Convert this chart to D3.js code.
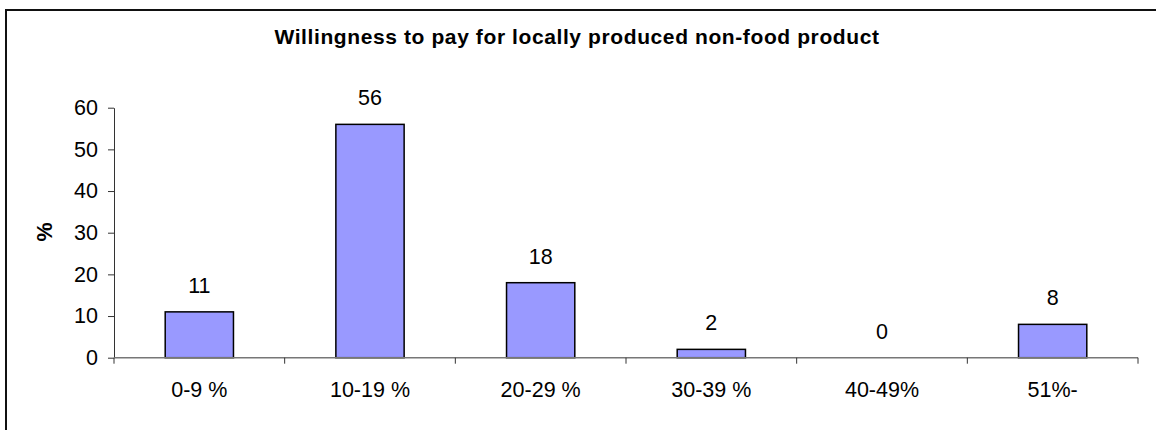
<!DOCTYPE html>
<html>
<head>
<meta charset="utf-8">
<script src="https://cdn.jsdelivr.net/npm/d3@7"></script>
<style>
  html, body { margin: 0; padding: 0; background: #fff; }
  svg { display: block; font-family: "Liberation Sans", Arial, sans-serif; }
</style>
</head>
<body>
<svg id="chart" width="1156" height="430"></svg>
<script>
// Survey result: share of respondents by extra price they would pay
const categories = ["0-9 %", "10-19 %", "20-29 %", "30-39 %", "40-49%", "51%-"];
const values = [11, 56, 18, 2, 0, 8];
const yTicks = [0, 10, 20, 30, 40, 50, 60];
const title = "Willingness to pay for locally produced non-food product";
const yTitle = "%";

const svg = d3.select("#chart");
const W = 1156, H = 430;
const labelSize = 21.5;

// Chart area frame
svg.append("rect")
  .attr("x", 6).attr("y", 10)
  .attr("width", W + 10).attr("height", H + 10)
  .attr("fill", "#fff")
  .attr("stroke", "#111")
  .attr("stroke-width", 2);

const plot = { left: 114, right: 1138, top: 107.7, bottom: 357.7 };

const x = d3.scaleBand()
  .domain(categories)
  .range([plot.left, plot.right])
  .paddingInner(0.6)
  .paddingOuter(0.3);

const y = d3.scaleLinear()
  .domain([0, 60])
  .range([plot.bottom, plot.top]);

// Bars
svg.append("g")
  .selectAll("rect")
  .data(values)
  .join("rect")
  .attr("x", (d, i) => x(categories[i]))
  .attr("y", d => y(d))
  .attr("width", x.bandwidth())
  .attr("height", d => y(0) - y(d))
  .attr("fill", "#9999ff")
  .attr("stroke", d => d > 0 ? "#000" : "none")
  .attr("stroke-width", 1.5);

// Y axis
const yAxis = svg.append("g")
  .attr("transform", `translate(${plot.left},0)`)
  .call(d3.axisLeft(y).tickValues(yTicks).tickSize(6).tickPadding(10).tickSizeOuter(0));
yAxis.select(".domain").attr("stroke", "#333").attr("stroke-width", 1);
yAxis.selectAll(".tick line").attr("stroke", "#333");
yAxis.selectAll(".tick text")
  .attr("font-size", labelSize)
  .attr("fill", "#000")
  .attr("font-family", "Liberation Sans, Arial, sans-serif");

// X axis: ticks at category boundaries
const step = (plot.right - plot.left) / categories.length;
const xAxisG = svg.append("g");
xAxisG.append("line")
  .attr("x1", plot.left).attr("x2", plot.right)
  .attr("y1", y(0)).attr("y2", y(0))
  .attr("stroke", "#777").attr("stroke-width", 1.5);
xAxisG.selectAll("line.tk")
  .data(d3.range(categories.length + 1))
  .join("line")
  .attr("class", "tk")
  .attr("x1", i => plot.left + i * step).attr("x2", i => plot.left + i * step)
  .attr("y1", y(0)).attr("y2", y(0) + 6)
  .attr("stroke", "#333").attr("stroke-width", 1);
xAxisG.selectAll("text")
  .data(categories)
  .join("text")
  .attr("x", d => x(d) + x.bandwidth() / 2)
  .attr("y", 396.5)
  .attr("text-anchor", "middle")
  .attr("font-size", labelSize)
  .text(d => d);

// Value labels
svg.append("g")
  .selectAll("text")
  .data(values)
  .join("text")
  .attr("x", (d, i) => x(categories[i]) + x.bandwidth() / 2)
  .attr("y", d => y(d) - 19)
  .attr("text-anchor", "middle")
  .attr("font-size", labelSize)
  .text(d => d);

// Title
svg.append("text")
  .attr("x", 577)
  .attr("y", 43.5)
  .attr("text-anchor", "middle")
  .attr("font-size", 21)
  .attr("letter-spacing", 0.6)
  .attr("font-weight", "bold")
  .text(title);

// Y axis title
svg.append("text")
  .attr("transform", `translate(52,232) rotate(-90)`)
  .attr("text-anchor", "middle")
  .attr("font-size", labelSize)
  .attr("font-weight", "bold")
  .text(yTitle);
</script>
</body>
</html>
